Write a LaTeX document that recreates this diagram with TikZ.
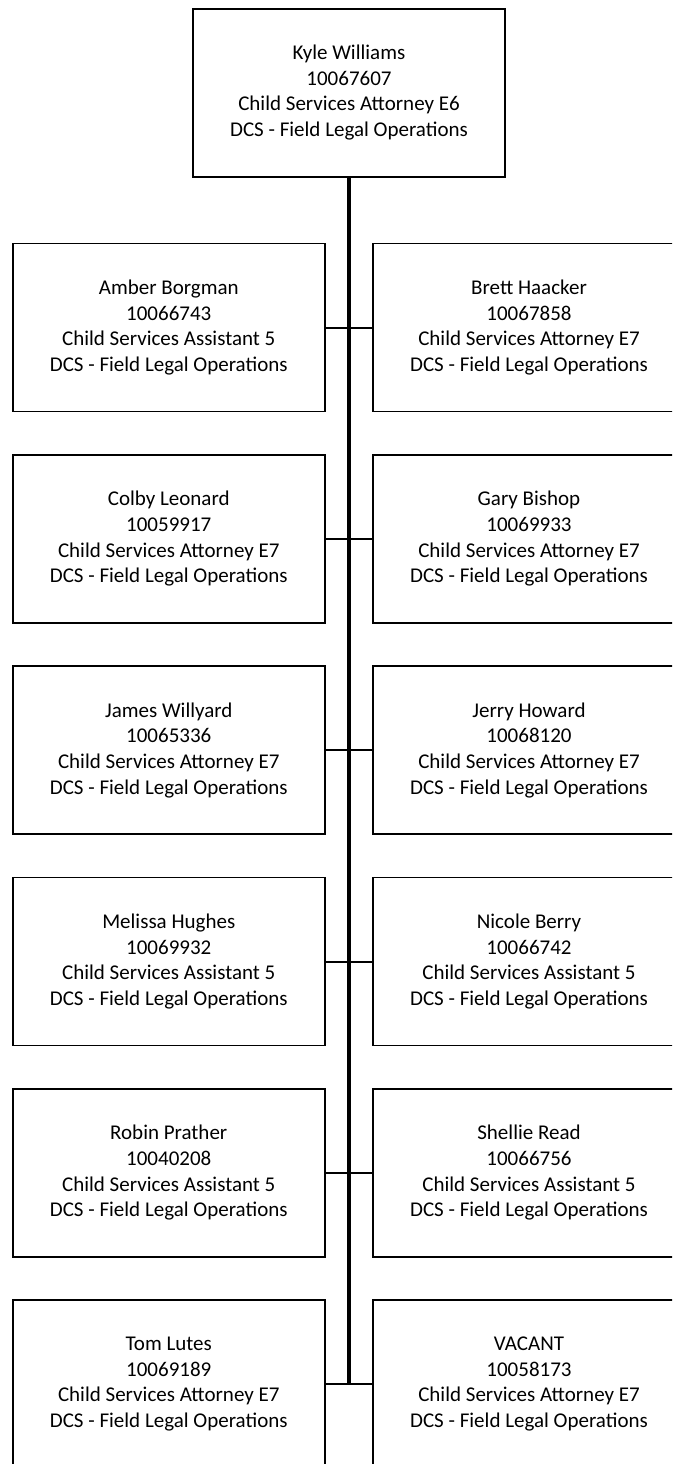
\documentclass[tikz,border=0pt]{standalone}
\usepackage{fontspec}
\setmainfont{Carlito}
\begin{document}
\begin{tikzpicture}[x=1pt,y=-1pt,
  person/.style={draw=black, line width=1.7pt, fill=white,
    minimum width=312pt, minimum height=168pt, inner sep=0pt,
    align=center, font=\fontsize{21}{25.6}\selectfont},
  trunk/.style={line width=4.3pt},
  branch/.style={line width=2pt}]
\useasboundingbox (0,0) rectangle (672,1464);
\clip (0,0) rectangle (672,1464);

% manager
\node[person] (top) at (349,92.7) {Kyle Williams\\10067607\\Child Services Attorney E6\\DCS - Field Legal Operations};

% direct reports, two per row
\node[person] (l1) at (168.75,327.6) {Amber Borgman\\10066743\\Child Services Assistant 5\\DCS - Field Legal Operations};
\node[person] (r1) at (529,327.6) {Brett Haacker\\10067858\\Child Services Attorney E7\\DCS - Field Legal Operations};
\node[person] (l2) at (168.75,538.9) {Colby Leonard\\10059917\\Child Services Attorney E7\\DCS - Field Legal Operations};
\node[person] (r2) at (529,538.9) {Gary Bishop\\10069933\\Child Services Attorney E7\\DCS - Field Legal Operations};
\node[person] (l3) at (168.75,750.2) {James Willyard\\10065336\\Child Services Attorney E7\\DCS - Field Legal Operations};
\node[person] (r3) at (529,750.2) {Jerry Howard\\10068120\\Child Services Attorney E7\\DCS - Field Legal Operations};
\node[person] (l4) at (168.75,961.5) {Melissa Hughes\\10069932\\Child Services Assistant 5\\DCS - Field Legal Operations};
\node[person] (r4) at (529,961.5) {Nicole Berry\\10066742\\Child Services Assistant 5\\DCS - Field Legal Operations};
\node[person] (l5) at (168.75,1172.8) {Robin Prather\\10040208\\Child Services Assistant 5\\DCS - Field Legal Operations};
\node[person] (r5) at (529,1172.8) {Shellie Read\\10066756\\Child Services Assistant 5\\DCS - Field Legal Operations};
\node[person] (l6) at (168.75,1384.1) {Tom Lutes\\10069189\\Child Services Attorney E7\\DCS - Field Legal Operations};
\node[person] (r6) at (529,1384.1) {VACANT\\10058173\\Child Services Attorney E7\\DCS - Field Legal Operations};

% horizontal links between each pair
\foreach \i in {1,...,6} {
  \draw[branch] (l\i.east) -- (r\i.west);
}

% vertical trunk from the manager down to the last row
\coordinate (trunkend) at (top.south |- l6.east);
\draw[trunk] (top.south) -- (trunkend);
\end{tikzpicture}
\end{document}
